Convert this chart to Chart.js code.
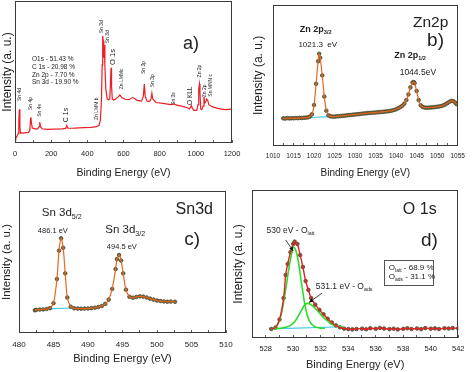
<!DOCTYPE html>
<html><head><meta charset="utf-8">
<script src="https://cdn.jsdelivr.net/npm/chart.js@4.4.1/dist/chart.umd.min.js"></script>
<style>
html,body{margin:0;padding:0;background:#fff;}
#wrap{position:relative;width:474px;height:372px;overflow:hidden;background:#fff;}
canvas{position:absolute;left:0;top:0;}
</style></head><body>
<div id="wrap">
<canvas id="ca" width="474" height="372"></canvas>
<canvas id="cb" width="474" height="372"></canvas>
<canvas id="cc" width="474" height="372"></canvas>
<canvas id="cd" width="474" height="372"></canvas>
</div>
<script>
// ---------- DATA ----------
// a) survey spectrum
const surveyEnergy = [0,5,10,15,18,21,24,27,30,35,45,60,75,82,86,88,91,96,110,125,133,137,141,150,180,220,260,280,286,292,330,380,420,450,465,472,478,482,485,488,491,494,497,502,510,518,524,528,531,534,538,545,555,570,580,590,610,630,650,660,675,700,710,715,720,730,745,752,757,762,780,820,860,880,890,920,950,965,972,976,980,990,1005,1012,1016,1020,1023,1027,1033,1040,1045,1049,1055,1060,1066,1072,1090,1120,1160,1200];
const surveyIntensity = [5,3.5,4.4,5.8,7,15,23.7,12,6.8,7.2,7,7.3,7.5,9,17,18.1,14,10.5,10,10,11.5,14.8,11.5,10,9.6,9.8,10,10.3,12.2,10.4,10.5,10.8,11,11.5,12.5,16,30,55,75.4,72,60,69,55,38,31,30.5,31,42,53,40,31,30.3,30.8,32.5,33.8,32,30.8,30.5,32,31.5,30,29.5,33,41.5,33,29.5,29.3,31,35,31,28.5,27.9,27,27.5,26.8,26,25,24,25.5,26.5,24.5,23,23,27,38,41.5,35,24,23.5,26,32.6,28,29,31,30,27,25.6,24.4,23.5,23.9];
const surveyTicks = [0,200,400,600,800,1000,1200];

// b) Zn 2p
const znEnergy = [1012.5,1013,1013.5,1014,1014.5,1015,1015.5,1016,1016.5,1017,1017.5,1018,1018.5,1019,1019.5,1020,1020.5,1021,1021.25,1021.5,1022,1022.5,1023,1023.5,1024,1024.5,1025,1025.5,1026,1026.5,1027,1027.5,1028,1028.5,1029,1029.5,1030,1030.5,1031,1031.5,1032,1032.5,1033,1033.5,1034,1034.5,1035,1035.5,1036,1036.5,1037,1037.5,1038,1038.5,1039,1039.5,1040,1040.5,1041,1041.5,1042,1042.5,1043,1043.5,1044,1044.3,1044.5,1045,1045.5,1046,1046.5,1047,1047.5,1048,1048.5,1049,1049.5,1050,1050.5,1051,1051.5,1052,1052.5,1053,1053.5,1054,1054.5,1054.8];
const znIntensity = [19.6,19.4,19.8,19.5,19.7,19.6,19.8,19.7,19.9,19.8,20.0,20.1,20.3,20.8,22.5,29,44,60,65.3,62.5,50,35,25,21.8,21,20.8,20.8,21,21.1,21.2,21.4,21.5,21.7,21.9,22,22.2,22.3,22.5,22.6,22.8,23,23.1,23.3,23.4,23.5,23.6,23.7,23.9,24,24.1,24.3,24.4,24.6,24.8,25.1,25.5,26,26.7,27.5,28.5,30,32.5,36.5,41.5,45,45.3,44.5,39,32.5,28.8,27.6,27.2,27.1,27.2,27.3,27.4,27.6,27.8,28.0,28.3,28.8,29.5,30.4,31.3,32.0,31.7,30.5,29.6];
const znBackgroundEnergy = [1019.3,1023.8];
const znBackground = [20.2,20.8];
const znTicks = [1010,1015,1020,1025,1030,1035,1040,1045,1050,1055];

// c) Sn 3d
const snEnergy = [482.3,482.5,483,483.5,484,484.5,485,485.5,485.8,486.1,486.4,486.7,487,487.5,488,488.5,489,489.5,490,490.5,491,491.5,492,492.5,493,493.5,494,494.2,494.5,494.8,495.1,495.5,496,496.5,497,497.5,498,498.5,499,499.5,500,500.5,501,501.5,502,502.6];
const snIntensity = [16.0,16.3,16.5,16.6,16.9,17.5,21,38,58,66.7,60,42,25,18.5,17.4,17.2,17.1,17.2,17.3,17.5,17.8,18.3,19,20.5,23.5,31,45,52,54.9,51,42,30.5,25.5,24.8,25.4,25.8,25.6,25,24.2,23.5,22.9,22.5,22.2,22.0,22.1,22.0];
const snBackgroundEnergy = [484.0,487.6];
const snBackground = [17.0,17.6];
const snTicks = [480,485,490,495,500,505,510];

// d) O 1s
const oEnergy = [528.4,528.7,529.0,529.3,529.45,529.6,529.8,530.0,530.1,530.3,530.5,530.7,530.9,531.1,531.3,531.6,531.9,532.2,532.5,532.8,533.1,533.4,533.7,534.0,534.3,534.6,535.0,535.3,535.6,536.0,536.3,536.6,537.0,537.3,537.6,538.0,538.3,538.6,539.0,539.3,539.6,540.0,540.3,540.6,541.0,541.3,541.6,542.0];
const oIntensity = [6.1,7.0,12.5,27,42.6,50,58,63.5,65.1,63.5,56,48,38.5,32.5,27,22.5,19,16,13,10.5,8.5,7.2,6.3,6.0,5.8,6.1,6.3,5.9,6.6,6.2,6.8,6.4,6.0,6.3,5.8,6.2,6.6,6.1,6.4,6.0,6.7,6.3,6.5,6.1,6.6,6.4,6.7,6.5];
const oLattEnergy = [528.4,528.8,529.1,529.4,529.7,529.9,530.0,530.2,530.4,530.6,530.8,531.0,531.2,531.5,531.9,532.3];
const oLatt = [6.1,8,15,30,48,58,61.5,59,50,37,25,16,11,8,6.8,6.6];
const oAdsEnergy = [528.6,529.2,529.7,530.1,530.5,530.8,531.0,531.3,531.6,531.9,532.3,532.7,533.1,533.6];
const oAds = [6.2,6.8,8,11,17,22,23.4,22.5,20,17,13,10,8.3,7.4];
const oBackgroundEnergy = [528.4,533.6];
const oBackground = [6.1,7.6];
const oTicks = [528,530,532,534,536,538,540,542];

// ---------- HELPERS ----------
const FAM = "'Liberation Sans', Arial, Helvetica, sans-serif";
const NARROW = "'Liberation Sans Narrow', 'Liberation Sans', Arial, sans-serif";
Chart.defaults.font.family = FAM;
Chart.defaults.color = '#222';
const pts = (xs, ys) => xs.map((x, i) => ({x: x, y: ys[i]}));

function withMinors(majors) {
  const out = [];
  for (let i = 0; i < majors.length; i++) {
    out.push({value: majors[i]});
    if (i < majors.length - 1) out.push({value: (majors[i] + majors[i + 1]) / 2});
  }
  return out;
}

const framePlugin = {
  id: 'frame',
  afterDraw(chart) {
    const {ctx, chartArea: a} = chart;
    ctx.save();
    ctx.strokeStyle = '#3a3a3a';
    ctx.lineWidth = 1;
    ctx.strokeRect(Math.round(a.left) + 0.5, Math.round(a.top) + 0.5,
                   Math.round(a.right - a.left) - 1, Math.round(a.bottom - a.top) - 1);
    ctx.restore();
  }
};

function drawRich(ctx, px, py, it) {
  const size = it.size || 7;
  const weight = it.bold ? 'bold ' : '';
  const fam = it.family || FAM;
  const parts = it.parts || [[it.text, false]];
  const subSize = size * 0.62;
  const widths = [];
  let w = 0;
  for (const [t, sub] of parts) {
    ctx.font = weight + (sub ? subSize : size) + 'px ' + fam;
    const ww = ctx.measureText(t).width;
    widths.push(ww); w += ww;
  }
  ctx.translate(px, py);
  if (it.rotate) ctx.rotate(-Math.PI / 2);
  let x0 = it.align === 'left' ? 0 : (it.align === 'right' ? -w : -w / 2);
  ctx.textBaseline = 'middle';
  ctx.textAlign = 'left';
  ctx.fillStyle = it.color || '#222';
  parts.forEach(([t, sub], i) => {
    ctx.font = weight + (sub ? subSize : size) + 'px ' + fam;
    ctx.fillText(t, x0, sub ? size * 0.32 : 0);
    x0 += widths[i];
  });
}

const notesPlugin = {
  id: 'notes',
  afterDraw(chart, args, opts) {
    const items = (opts && opts.items) || [];
    const ctx = chart.ctx, xs = chart.scales.x, ys = chart.scales.y;
    for (const it of items) {
      ctx.save();
      if (it.type === 'arrow') {
        const x1 = xs.getPixelForValue(it.x1), y1 = ys.getPixelForValue(it.y1);
        const x2 = xs.getPixelForValue(it.x2), y2 = ys.getPixelForValue(it.y2);
        ctx.strokeStyle = '#111'; ctx.fillStyle = '#111'; ctx.lineWidth = 0.8;
        ctx.beginPath(); ctx.moveTo(x1, y1); ctx.lineTo(x2, y2); ctx.stroke();
        const ang = Math.atan2(y2 - y1, x2 - x1), h = 4.5;
        ctx.beginPath();
        ctx.moveTo(x2, y2);
        ctx.lineTo(x2 - h * Math.cos(ang - 0.45), y2 - h * Math.sin(ang - 0.45));
        ctx.lineTo(x2 - h * Math.cos(ang + 0.45), y2 - h * Math.sin(ang + 0.45));
        ctx.closePath(); ctx.fill();
      } else if (it.type === 'box') {
        const x1 = xs.getPixelForValue(it.x1), y1 = ys.getPixelForValue(it.y1);
        const x2 = xs.getPixelForValue(it.x2), y2 = ys.getPixelForValue(it.y2);
        ctx.strokeStyle = '#555'; ctx.lineWidth = 1;
        ctx.strokeRect(Math.round(x1) + 0.5, Math.round(y1) + 0.5, Math.round(x2 - x1), Math.round(y2 - y1));
      } else {
        drawRich(ctx, xs.getPixelForValue(it.x), ys.getPixelForValue(it.y), it);
      }
      ctx.restore();
    }
  }
};

function makePanel(id, p) {
  return new Chart(document.getElementById(id), {
    type: 'scatter',
    data: {datasets: p.datasets},
    plugins: [framePlugin, notesPlugin],
    options: {
      responsive: false, animation: false, devicePixelRatio: 1, events: [],
      layout: {padding: p.padding},
      plugins: {legend: {display: false}, tooltip: {enabled: false}, notes: {items: p.notes}},
      scales: {
        x: {
          type: 'linear', min: p.xmin, max: p.xmax,
          afterBuildTicks: (s) => { s.ticks = withMinors(p.ticks); },
          afterFit: (s) => { s.height = p.xH; },
          ticks: {
            autoSkip: false, maxRotation: 0, padding: p.tickPad, color: '#222',
            font: {size: p.tickSize},
            callback: (v) => (p.ticks.indexOf(v) >= 0 ? String(v) : '')
          },
          grid: {display: true, drawOnChartArea: false, drawTicks: true, tickLength: -3, color: '#333', lineWidth: 0.8},
          border: {display: false},
          title: {display: true, text: 'Binding Energy (eV)', color: '#222', font: {size: p.xTitleSize}, padding: 0}
        },
        y: {
          type: 'linear', min: 0, max: 100,
          afterFit: (s) => { s.width = p.yW; },
          ticks: {display: false},
          grid: {display: false},
          border: {display: false},
          title: {display: true, text: 'Intensity (a. u.)', color: '#222', font: {size: p.yTitleSize}, padding: 0}
        }
      }
    }
  });
}

const markerStyle = {showLine: false, pointRadius: 1.8, pointBorderWidth: 0.8,
  pointBorderColor: '#3d4630', pointBackgroundColor: '#7d6a3e'};

// a)
makePanel('ca', {
  padding: {left: 0, top: 1, right: 242, bottom: 193},
  xmin: 0, xmax: 1200, ticks: surveyTicks, xH: 36, yW: 15, tickPad: 9.5, tickSize: 7.5,
  xTitleSize: 10.5, yTitleSize: 12,
  datasets: [{data: pts(surveyEnergy, surveyIntensity), showLine: true, borderColor: '#ee1c24',
    borderWidth: 1.2, pointRadius: 0, tension: 0}],
  notes: [
    {x: 24, y: 29.5, text: 'Sn 4d', rotate: true, align: 'left', size: 5, family: NARROW},
    {x: 87, y: 23.2, text: 'Sn 4p', rotate: true, align: 'left', size: 5, family: NARROW},
    {x: 138, y: 18.5, text: 'Sn 4s', rotate: true, align: 'left', size: 5, family: NARROW},
    {x: 280, y: 14.6, text: 'C 1s', rotate: true, align: 'left', size: 7, family: NARROW},
    {x: 452, y: 16.2, text: 'Zn LMM b', rotate: true, align: 'left', size: 5, family: NARROW},
    {x: 479, y: 77.3, text: 'Sn 3d', rotate: true, align: 'left', size: 5, family: NARROW},
    {x: 513, y: 70.2, text: 'Sn 3d', rotate: true, align: 'left', size: 5, family: NARROW},
    {x: 540, y: 55, text: 'O 1s', rotate: true, align: 'left', size: 7.5, family: NARROW},
    {x: 592, y: 37.8, text: 'Zn LMMc', rotate: true, align: 'left', size: 5, family: NARROW},
    {x: 713, y: 48.6, text: 'Sn 3p', rotate: true, align: 'left', size: 5, family: NARROW},
    {x: 761, y: 39.2, text: 'Sn 3p', rotate: true, align: 'left', size: 5, family: NARROW},
    {x: 879, y: 26.8, text: 'Sn 3s', rotate: true, align: 'left', size: 5, family: NARROW},
    {x: 971, y: 26.8, text: 'O KLL', rotate: true, align: 'left', size: 6.5, family: NARROW},
    {x: 1019, y: 46.2, text: 'Zn 2p', rotate: true, align: 'left', size: 5, family: NARROW},
    {x: 1049, y: 32.2, text: 'Zn 2p', rotate: true, align: 'left', size: 5, family: NARROW},
    {x: 1084, y: 32.6, text: 'Sn MNN c', rotate: true, align: 'left', size: 5, family: NARROW},
    {x: 94, y: 59.2, text: 'O1s - 51.43 %', align: 'left', size: 6.5},
    {x: 94, y: 53.3, text: 'C 1s - 20.98 %', align: 'left', size: 6.5},
    {x: 94, y: 47.4, text: 'Zn 2p - 7.70 %', align: 'left', size: 6.5},
    {x: 94, y: 42.5, text: 'Sn 3d - 19.90 %', align: 'left', size: 6.5},
    {x: 973, y: 69.7, text: 'a)', size: 18}
  ]
});

// b)
makePanel('cb', {
  padding: {left: 251, top: 4, right: 11, bottom: 193},
  xmin: 1010, xmax: 1055, ticks: znTicks, xH: 33, yW: 22, tickPad: 9.1, tickSize: 6.5,
  xTitleSize: 10, yTitleSize: 12,
  datasets: [
    {data: pts(znBackgroundEnergy, znBackground), showLine: true, borderColor: '#3cc8ea', borderWidth: 1.2, pointRadius: 0, order: 3},
    Object.assign({data: pts(znEnergy, znIntensity), order: 2}, markerStyle),
    {data: pts(znEnergy, znIntensity), showLine: true, borderColor: '#e8661c', borderWidth: 1.2, pointRadius: 0, tension: 0.3, order: 1}
  ],
  notes: [
    {x: 1020.4, y: 82.4, parts: [['Zn 2p', false], ['3/2', true]], bold: true, size: 9},
    {x: 1020.9, y: 71.8, text: '1021.3  eV', size: 8},
    {x: 1043.4, y: 64.1, parts: [['Zn 2p', false], ['1/2', true]], bold: true, size: 9},
    {x: 1045.3, y: 52.1, text: '1044.5eV', size: 8.5},
    {x: 1048.4, y: 87.3, text: 'Zn2p', size: 15.5},
    {x: 1049.6, y: 74.6, text: 'b)', size: 19}
  ]
});

// c)
makePanel('cc', {
  padding: {left: 0, top: 191, right: 248, bottom: 6.4},
  xmin: 480, xmax: 510, ticks: snTicks, xH: 32.6, yW: 19, tickPad: 10.2, tickSize: 8,
  xTitleSize: 11, yTitleSize: 11.5,
  datasets: [
    {data: pts(snBackgroundEnergy, snBackground), showLine: true, borderColor: '#3cc8ea', borderWidth: 1.2, pointRadius: 0, order: 3},
    Object.assign({data: pts(snEnergy, snIntensity), order: 2}, markerStyle),
    {data: pts(snEnergy, snIntensity), showLine: true, borderColor: '#e8661c', borderWidth: 1.2, pointRadius: 0, tension: 0.3, order: 1}
  ],
  notes: [
    {x: 486.2, y: 84.5, parts: [['Sn 3d', false], ['5/2', true]], size: 11.5},
    {x: 484.9, y: 71.8, text: '486.1 eV', size: 7.5},
    {x: 495.4, y: 72.5, parts: [['Sn 3d', false], ['3/2', true]], size: 11.5},
    {x: 494.9, y: 60.6, text: '494.5 eV', size: 7.5},
    {x: 505.4, y: 86.6, text: 'Sn3d', size: 16},
    {x: 505.1, y: 65.5, text: 'c)', size: 19}
  ]
});

// d)
makePanel('cd', {
  padding: {left: 231.3, top: 190, right: 8, bottom: 0},
  xmin: 527, xmax: 542, ticks: oTicks, xH: 34, yW: 20.7, tickPad: 9.5, tickSize: 7.5,
  xTitleSize: 11, yTitleSize: 12,
  datasets: [
    {data: pts(oBackgroundEnergy, oBackground), showLine: true, borderColor: '#3cc8ea', borderWidth: 1.2, pointRadius: 0, order: 5},
    Object.assign({data: pts(oEnergy, oIntensity), order: 4}, markerStyle, {pointBackgroundColor: '#8a5a3a', pointBorderColor: '#4a4034'}),
    {data: pts(oLattEnergy, oLatt), showLine: true, borderColor: '#2bdc2b', borderWidth: 1.6, pointRadius: 0, tension: 0.35, order: 3},
    {data: pts(oAdsEnergy, oAds), showLine: true, borderColor: '#2bdc2b', borderWidth: 1.6, pointRadius: 0, tension: 0.35, order: 2},
    {data: pts(oEnergy, oIntensity), showLine: true, borderColor: '#e62222', borderWidth: 1.4, pointRadius: 0, tension: 0.3, order: 1}
  ],
  notes: [
    {x: 539.2, y: 86.5, text: 'O 1s', size: 16},
    {x: 539.9, y: 65.5, text: 'd)', size: 19},
    {x: 529.8, y: 72.3, parts: [['530 eV - O', false], ['latt', true]], size: 8.5},
    {type: 'arrow', x1: 529.45, y1: 66.2, x2: 530.0, y2: 58.8},
    {x: 533.7, y: 34.5, parts: [['531.1 eV - O', false], ['ads', true]], size: 8.5},
    {type: 'arrow', x1: 532.1, y1: 30.4, x2: 531.15, y2: 24.0},
    {type: 'box', x1: 536.6, y1: 52.7, x2: 540.2, y2: 35.8},
    {x: 536.95, y: 47.3, parts: [['O', false], ['latt', true], [' - 68.9 %', false]], align: 'left', size: 8},
    {x: 536.95, y: 41.2, parts: [['O', false], ['ads', true], [' - 31.1 %', false]], align: 'left', size: 8}
  ]
});
</script>
</body></html>
